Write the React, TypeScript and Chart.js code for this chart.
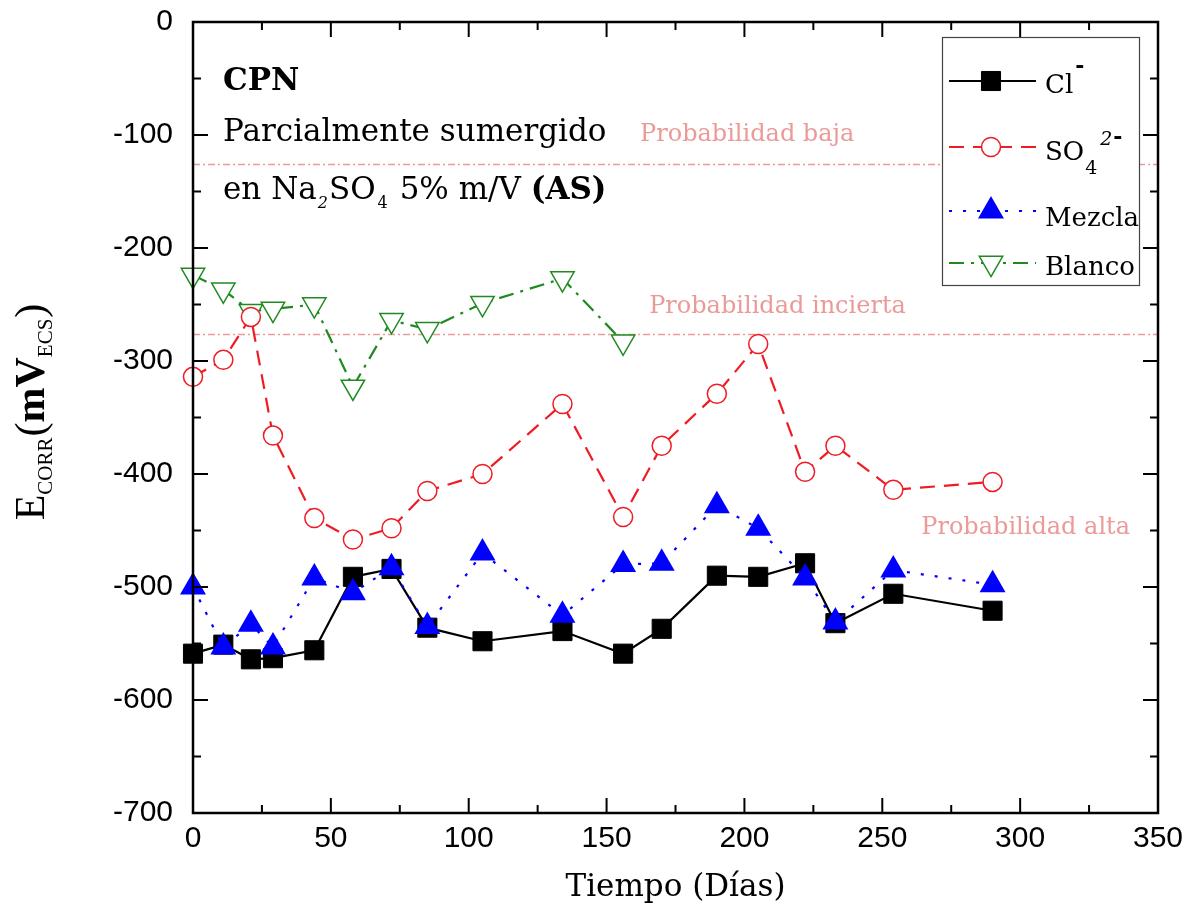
import React, { useEffect, useRef } from 'react';
import { Chart, registerables } from 'chart.js';

Chart.register(...registerables);

// Exposure time (days) and corrosion potential readings (mV vs. SCE)
const days = [0, 11, 21, 29, 44, 58, 72, 85, 105, 134, 156, 170, 190, 205, 222, 233, 254, 290];
const cloruro = [-559, -551, -564, -563, -556, -491, -484, -536, -548, -539, -559, -537, -490, -491, -479, -532, -506, -521];
const sulfato = [-314, -299, -261, -366, -439, -458, -448, -415, -400, -338, -438, -375, -329, -285, -398, -375, -414, -407];
const mezcla = [-500, -553, -533, -553, -492, -505, -483, -535, -470, -525, -480, -479, -428, -448, -492, -531, -485, -498];
const blancoDays = [0, 11, 21, 29, 44, 58, 72, 85, 105, 134, 156];
const blanco = [-224, -237, -256, -254, -250, -323, -264, -272, -249, -227, -283];

// ASTM C876 thresholds expressed against SCE
const umbrales = [-126, -276];
const zonas = ['Probabilidad baja', 'Probabilidad incierta', 'Probabilidad alta'];

const xTicks = [0, 50, 100, 150, 200, 250, 300, 350];
const yTicks = [0, -100, -200, -300, -400, -500, -600, -700];

const SERIF = '"DejaVu Serif", serif';
const TIMES = '"Liberation Serif", serif';
const SANS = '"Liberation Sans", Arial, sans-serif';

const RED = '#ee1c24';
const BLUE = '#0000ff';
const GREEN = '#1f8a1f';
const PINK = '#eb9a9a';

type Seg = { t: string; font: string; dy?: number; dx?: number };

function drawRich(ctx: CanvasRenderingContext2D, x: number, y: number, segs: Seg[]) {
  let cx = x;
  for (const s of segs) {
    ctx.font = s.font;
    cx += s.dx || 0;
    ctx.fillText(s.t, cx, y + (s.dy || 0));
    cx += ctx.measureText(s.t).width;
  }
  return cx;
}

function richWidth(ctx: CanvasRenderingContext2D, segs: Seg[]) {
  let w = 0;
  for (const s of segs) {
    ctx.font = s.font;
    w += ctx.measureText(s.t).width + (s.dx || 0);
  }
  return w;
}

type Marker = 'rect' | 'circle' | 'triangle' | 'triangleDown';

function drawMarker(ctx: CanvasRenderingContext2D, kind: Marker, x: number, y: number, r: number, stroke: string, fill: string, lw: number) {
  ctx.save();
  ctx.beginPath();
  if (kind === 'rect') {
    const s = Math.SQRT1_2 * r;
    ctx.rect(x - s, y - s, 2 * s, 2 * s);
  } else if (kind === 'circle') {
    ctx.arc(x, y, r, 0, Math.PI * 2);
  } else {
    const sgn = kind === 'triangle' ? 1 : -1;
    const hw = (Math.sqrt(3) / 2) * r;
    ctx.moveTo(x, y - sgn * r);
    ctx.lineTo(x + hw, y + sgn * r / 2);
    ctx.lineTo(x - hw, y + sgn * r / 2);
    ctx.closePath();
  }
  ctx.fillStyle = fill;
  ctx.fill();
  ctx.lineWidth = lw;
  ctx.strokeStyle = stroke;
  ctx.stroke();
  ctx.restore();
}

const series = [
  { label: 'Cl', days, values: cloruro, color: '#000', dash: [] as number[], marker: 'rect' as Marker, r: 13.5, fill: '#000', order: 1 },
  { label: 'SO4', days, values: sulfato, color: RED, dash: [15, 9], marker: 'circle' as Marker, r: 9.5, fill: '#fff', order: 2 },
  { label: 'Mezcla', days, values: mezcla, color: BLUE, dash: [3, 11], marker: 'triangle' as Marker, r: 13.5, fill: BLUE, order: 0 },
  { label: 'Blanco', days: blancoDays, values: blanco, color: GREEN, dash: [15, 7, 3, 7], marker: 'triangleDown' as Marker, r: 13.5, fill: '#fff', order: 3 },
];

const pointStyleOf = (m: Marker) => (m === 'triangleDown' ? 'triangle' : m);

const decorPlugin = {
  id: 'decor',
  beforeDatasetsDraw(chart: any) {
    const { ctx, chartArea: a, scales } = chart;
    const y = scales.y;
    ctx.save();
    ctx.strokeStyle = PINK;
    ctx.lineWidth = 1.5;
    ctx.setLineDash([7, 3, 2, 3]);
    for (const u of umbrales) {
      const py = Math.round(y.getPixelForValue(u)) + 0.5;
      ctx.beginPath();
      ctx.moveTo(a.left, py);
      ctx.lineTo(a.right, py);
      ctx.stroke();
    }
    ctx.setLineDash([]);
    ctx.fillStyle = PINK;
    ctx.font = `24px ${SERIF}`;
    ctx.textAlign = 'center';
    ctx.textBaseline = 'middle';
    const x = scales.x;
    ctx.fillText(zonas[0], x.getPixelForValue(201), y.getPixelForValue(-100));
    ctx.fillText(zonas[1], x.getPixelForValue(212), y.getPixelForValue(-252));
    ctx.fillText(zonas[2], x.getPixelForValue(302), y.getPixelForValue(-448));
    ctx.restore();
  },
  afterDraw(chart: any) {
    const { ctx, chartArea: a, scales } = chart;
    const xs = scales.x;
    const ys = scales.y;
    ctx.save();

    // frame
    ctx.strokeStyle = '#000';
    ctx.lineWidth = 2.5;
    ctx.strokeRect(a.left, a.top, a.right - a.left, a.bottom - a.top);

    // inward ticks on all four sides
    ctx.lineWidth = 2;
    const major = 15;
    const minor = 8;
    for (let v = 0; v <= 350; v += 25) {
      const px = xs.getPixelForValue(v);
      const len = v % 50 === 0 ? major : minor;
      ctx.beginPath();
      ctx.moveTo(px, a.bottom);
      ctx.lineTo(px, a.bottom - len);
      ctx.moveTo(px, a.top);
      ctx.lineTo(px, a.top + len);
      ctx.stroke();
    }
    for (let v = -700; v <= 0; v += 50) {
      const py = ys.getPixelForValue(v);
      const len = v % 100 === 0 ? major : minor;
      ctx.beginPath();
      ctx.moveTo(a.left, py);
      ctx.lineTo(a.left + len, py);
      ctx.moveTo(a.right, py);
      ctx.lineTo(a.right - len, py);
      ctx.stroke();
    }

    // axis titles
    ctx.fillStyle = '#000';
    ctx.textBaseline = 'alphabetic';
    ctx.textAlign = 'left';
    const xt: Seg[] = [{ t: 'Tiempo (Días)', font: `31px ${SERIF}` }];
    const xw = richWidth(ctx, xt);
    drawRich(ctx, (a.left + a.right) / 2 - xw / 2, 896, xt);

    const yt: Seg[] = [
      { t: 'E', font: `42px ${TIMES}` },
      { t: 'CORR', font: `21px ${TIMES}`, dy: 8 },
      { t: '(', font: `42px ${TIMES}`, dx: 1 },
      { t: 'mV', font: `bold 42px ${TIMES}` },
      { t: 'ECS', font: `21px ${TIMES}`, dy: 8 },
      { t: ')', font: `42px ${TIMES}`, dx: 1 },
    ];
    const yw = richWidth(ctx, yt);
    ctx.save();
    ctx.translate(44, 412);
    ctx.rotate(-Math.PI / 2);
    drawRich(ctx, -yw / 2, 0, yt);
    ctx.restore();

    // annotation block
    const tx = a.left + 30;
    ctx.font = `bold 31px ${SERIF}`;
    ctx.fillText('CPN', tx, 90);
    ctx.font = `31px ${SERIF}`;
    ctx.fillText('Parcialmente sumergido', tx, 141);
    drawRich(ctx, tx, 199, [
      { t: 'en Na', font: `31px ${SERIF}` },
      { t: '2', font: `italic 16px ${SERIF}`, dy: 9, dx: 1 },
      { t: 'SO', font: `31px ${SERIF}`, dx: 1 },
      { t: '4', font: `16px ${SERIF}`, dy: 9, dx: 2 },
      { t: ' 5% m/V ', font: `31px ${SERIF}`, dx: 2 },
      { t: '(AS)', font: `bold 31px ${SERIF}` },
    ]);

    // legend box
    const L = { left: 942, top: 37, right: 1139, bottom: 285 };
    ctx.fillStyle = '#fff';
    ctx.fillRect(L.left, L.top, L.right - L.left, L.bottom - L.top);
    ctx.strokeStyle = '#444';
    ctx.lineWidth = 1.2;
    ctx.strokeRect(L.left + 0.5, L.top + 0.5, L.right - L.left, L.bottom - L.top);

    const rowsY = [81, 147, 211, 263];
    const textBase = [93, 160, 226, 275];
    const labels: Seg[][] = [
      [{ t: 'Cl', font: `26px ${SERIF}` }, { t: '-', font: `bold 22px ${SERIF}`, dy: -20, dx: 2 }],
      [
        { t: 'SO', font: `26px ${SERIF}` },
        { t: '4', font: `19px ${SERIF}`, dy: 14, dx: 1 },
        { t: '2', font: `italic 19px ${SERIF}`, dy: -15, dx: 3 },
        { t: '-', font: `bold 22px ${SERIF}`, dy: -16, dx: 1 },
      ],
      [{ t: 'Mezcla', font: `26px ${SERIF}` }],
      [{ t: 'Blanco', font: `26px ${SERIF}` }],
    ];
    series.forEach((s, i) => {
      const yy = rowsY[i];
      ctx.save();
      ctx.strokeStyle = s.color;
      ctx.lineWidth = 2;
      ctx.setLineDash(s.dash);
      ctx.beginPath();
      ctx.moveTo(949, yy);
      ctx.lineTo(1036, yy);
      ctx.stroke();
      ctx.restore();
      drawMarker(ctx, s.marker, 991, yy, s.r, s.color, s.fill, s.marker === 'rect' ? 1 : 1.5);
      ctx.fillStyle = '#000';
      drawRich(ctx, 1045, textBase[i], labels[i]);
    });

    ctx.restore();
  },
};

export default function App() {
  const ref = useRef<HTMLCanvasElement | null>(null);

  useEffect(() => {
    if (!ref.current) return;
    const chart = new Chart(ref.current, {
      type: 'line',
      data: {
        datasets: series.map((s) => ({
          label: s.label,
          data: s.days.map((d, i) => ({ x: d, y: s.values[i] })),
          borderColor: s.color,
          borderWidth: 2.2,
          borderDash: s.dash,
          pointStyle: pointStyleOf(s.marker) as any,
          rotation: s.marker === 'triangleDown' ? 180 : 0,
          pointRadius: s.r,
          pointBackgroundColor: s.fill,
          pointBorderColor: s.color,
          pointBorderWidth: s.marker === 'rect' ? 1 : 1.5,
          fill: false,
          tension: 0,
          order: s.order,
          clip: false as any,
        })),
      },
      options: {
        animation: false,
        responsive: false,
        maintainAspectRatio: false,
        layout: { padding: { top: 22, right: 31, left: 0, bottom: 0 } },
        plugins: {
          legend: { display: false },
          tooltip: { enabled: false },
        },
        scales: {
          x: {
            type: 'linear',
            min: 0,
            max: 350,
            afterBuildTicks: (s: any) => {
              s.ticks = xTicks.map((v) => ({ value: v }));
            },
            ticks: { font: { family: SANS, size: 30 }, color: '#000', padding: 8, maxRotation: 0, autoSkip: false },
            grid: { display: false, drawTicks: false },
            border: { display: false },
            afterFit: (s: any) => {
              s.height = 98;
              s.paddingLeft = 0;
              s.paddingRight = 0;
            },
          },
          y: {
            type: 'linear',
            min: -700,
            max: 0,
            afterBuildTicks: (s: any) => {
              s.ticks = yTicks.map((v) => ({ value: v }));
            },
            ticks: { font: { family: SANS, size: 30 }, color: '#000', padding: 20, autoSkip: false },
            grid: { display: false, drawTicks: false },
            border: { display: false },
            afterFit: (s: any) => {
              s.width = 193;
              s.paddingTop = 0;
              s.paddingBottom = 0;
            },
          },
        },
      },
      plugins: [decorPlugin],
    });
    return () => chart.destroy();
  }, []);

  return (
    <div style={{ position: 'absolute', left: 0, top: 0, width: 1189, height: 911, background: '#fff' }}>
      <canvas ref={ref} width={1189} height={911} style={{ display: 'block' }} />
    </div>
  );
}
